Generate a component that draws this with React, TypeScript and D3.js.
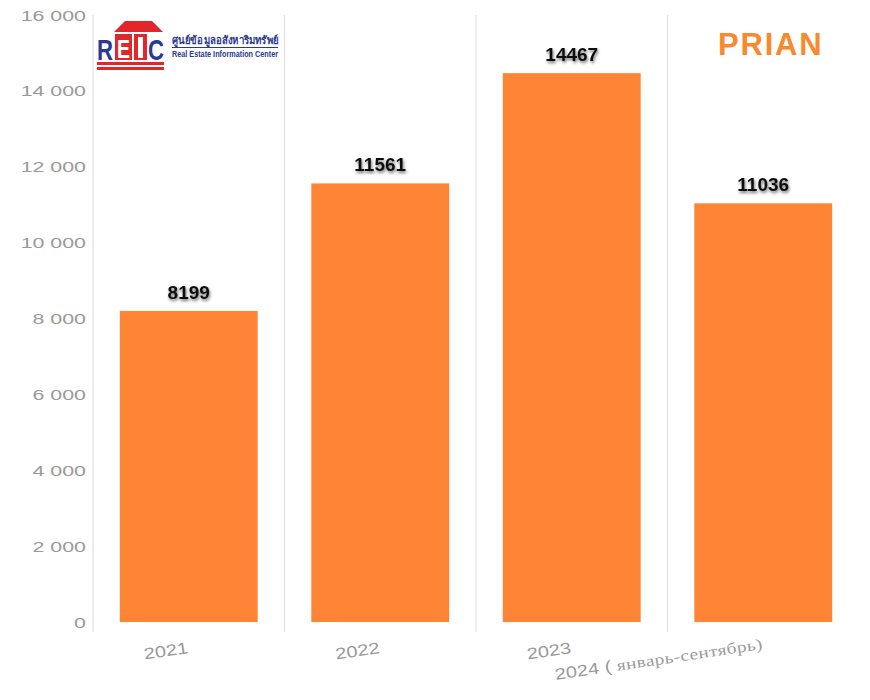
import React from "react";
import * as d3 from "d3";

// values
const years = ["2021", "2022", "2023", "2024"];
const values = [8199, 11561, 14467, 11036];
const yTicks = [0, 2000, 4000, 6000, 8000, 10000, 12000, 14000, 16000];

const barColor = "#fd8535";
const gridColor = "#e2e2e2";
const tickColor = "#9a9a9a";

function ReicLogo() {
	const red = "#e3262b";
	const blue = "#2b3990";
	return (
		<g transform="translate(97, 20)">
			{/* roof */}
			<path d="M28 1 L55 1 L66 12 L17 12 Z" fill={red} />
			{/* letters */}
			<text x={0} y={40} fontFamily="Liberation Sans, Arial" fontWeight="bold" fontSize={30} fill={blue} textLength={16} lengthAdjust="spacingAndGlyphs">R</text>
			<rect x={18} y={14} width={17} height={26} fill={red} />
			<text x={20} y={38} fontFamily="Liberation Sans, Arial" fontWeight="bold" fontSize={26} fill="#ffffff" textLength={13} lengthAdjust="spacingAndGlyphs">E</text>
			<rect x={37} y={14} width={13} height={26} fill={red} />
			<rect x={41} y={17} width={5} height={21} fill="#ffffff" />
			<text x={51} y={40} fontFamily="Liberation Sans, Arial" fontWeight="bold" fontSize={30} fill={blue} textLength={16} lengthAdjust="spacingAndGlyphs">C</text>
			<rect x={0} y={42} width={67} height={3} fill={red} />
			<rect x={0} y={47} width={67} height={3} fill={red} />
			{/* names */}
			<text x={75} y={24} fontFamily="Noto Sans, DejaVu Sans" fontWeight="bold" fontSize={11} fill={blue} textLength={106} lengthAdjust="spacingAndGlyphs">ศูนย์ข้อมูลอสังหาริมทรัพย์</text>
			<rect x={75} y={27} width={106} height={1} fill={blue} />
			<text x={75} y={37} fontFamily="Liberation Sans Narrow, Liberation Sans, Arial" fontWeight="bold" fontSize={9.5} fill={blue} textLength={106} lengthAdjust="spacingAndGlyphs">Real Estate Information Center</text>
		</g>
	);
}

export default function App() {
	const width = 870;
	const height = 700;
	const marginLeft = 93;
	const marginRight = 11;
	const yTop = 15;
	const yBottom = 622;

	const x = d3
		.scaleBand<string>()
		.domain(years)
		.range([marginLeft, width - marginRight])
		.paddingInner(0.28)
		.paddingOuter(0.14);

	const y = d3.scaleLinear().domain([0, 16000]).range([yBottom, yTop]);

	const step = x.step();
	const fmt = (v: number) => d3.format(",")(v).replace(/,/g, " ");

	return (
		<svg
			width={width}
			height={height}
			style={{ position: "absolute", left: 0, top: 0, background: "#fff" }}
		>
			<defs>
				<filter id="shadow" x="-30%" y="-50%" width="160%" height="200%">
					<feDropShadow dx={1} dy={2} stdDeviation={1.6} floodColor="#000" floodOpacity={0.55} />
				</filter>
			</defs>
			<rect width={width} height={height} fill="#fff" />

			{/* vertical separators */}
			{years.map((yr) => {
				const gx = (x(yr) ?? 0) - (step - x.bandwidth()) / 2;
				return (
					<line
						key={"g" + yr}
						x1={gx}
						x2={gx}
						y1={yTop}
						y2={yBottom + 10}
						stroke={gridColor}
						strokeWidth={1.2}
					/>
				);
			})}

			{/* y tick labels */}
			{yTicks.map((t) => (
				<text
					key={t}
					transform={`translate(86, ${y(t) + 5.5}) scale(1.38, 1)`}
					textAnchor="end"
					fontFamily="Liberation Sans, Arial"
					fontSize={15.5}
					fill={tickColor}
				>
					{fmt(t)}
				</text>
			))}

			{/* bars */}
			{years.map((yr, i) => (
				<rect
					key={"b" + yr}
					x={x(yr)}
					y={y(values[i])}
					width={x.bandwidth()}
					height={y(0) - y(values[i])}
					fill={barColor}
				/>
			))}

			{/* value labels */}
			{years.map((yr, i) => (
				<text
					key={"v" + yr}
					x={(x(yr) ?? 0) + x.bandwidth() / 2}
					y={y(values[i]) - 12}
					textAnchor="middle"
					fontFamily="Liberation Sans, Arial"
					fontWeight="bold"
					fontSize={19}
					fill="#111"
					filter="url(#shadow)"
				>
					{values[i]}
				</text>
			))}

			{/* x labels */}
			{years.map((yr, i) => {
				const cx = (x(yr) ?? 0) + x.bandwidth() / 2;
				const last = i === years.length - 1;
				return (
					<text
						key={"x" + yr}
						transform={`translate(${cx}, ${last ? 649 : 653}) rotate(-8.5) scale(1.25, 1)`}
						textAnchor="end"
						fontFamily="Liberation Sans, Arial"
						fontSize={16}
						fill={tickColor}
					>
						{yr}
						{last && (
							<>
								<tspan> ( </tspan>
								<tspan fontFamily="Liberation Serif, Times New Roman" fontSize={15.5} letterSpacing={0.3}>
									январь-сентябрь)
								</tspan>
							</>
						)}
					</text>
				);
			})}

			<ReicLogo />

			<text
				x={718}
				y={55}
				fontFamily="Liberation Sans, Arial"
				fontWeight="bold"
				fontSize={31}
				letterSpacing={1.8}
				fill="#f7892f"
			>
				PRIAN
			</text>
		</svg>
	);
}
